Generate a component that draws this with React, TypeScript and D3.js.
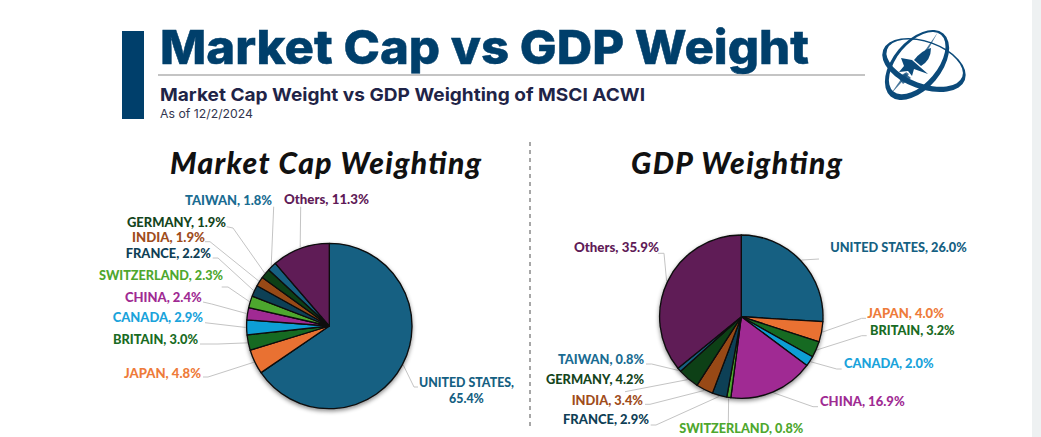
import React from "react";
import * as d3 from "d3";

const categories = ["UNITED STATES", "JAPAN", "BRITAIN", "CANADA", "CHINA", "SWITZERLAND", "FRANCE", "INDIA", "GERMANY", "TAIWAN", "Others"];
const marketCapValues = [65.4, 4.8, 3.0, 2.9, 2.4, 2.3, 2.2, 1.9, 1.9, 1.8, 11.3];
const gdpValues = [26.0, 4.0, 3.2, 2.0, 16.9, 0.8, 2.9, 3.4, 4.2, 0.8, 35.9];
const sliceColors = ["#156082", "#E97132", "#196B24", "#0F9ED5", "#A02B93", "#4EA72E", "#0D3F56", "#984A14", "#0F4018", "#156082", "#5F1B57"];
const labelColors = ["#156082", "#EE7B3A", "#196B24", "#1AA3DB", "#A02B93", "#4EA72E", "#0F3F56", "#A04D1C", "#14451C", "#1A6C92", "#5F1B57"];

type L = { x0: number; x1: number; y: number; pts: [number, number][] };
const mcLayout: L[] = [
  { x0: 419, x1: 514, y: 383, pts: [[414, 387], [418, 387]] },
  { x0: 124, x1: 201, y: 373.7, pts: [[208, 377], [203, 377]] },
  { x0: 113, x1: 198, y: 340, pts: [[218, 344], [200, 344]] },
  { x0: 112.7, x1: 203, y: 318, pts: [[205, 322.7]] },
  { x0: 125, x1: 201.7, y: 298, pts: [[211.7, 304], [203, 302]] },
  { x0: 99, x1: 223, y: 276, pts: [[228, 287], [221.7, 287]] },
  { x0: 125.7, x1: 211, y: 253.7, pts: [[218, 258], [212.7, 258]] },
  { x0: 132, x1: 205, y: 237.7, pts: [[210, 241.7], [205, 241.7]] },
  { x0: 127, x1: 226, y: 222.7, pts: [[233, 228], [226.7, 226.7]] },
  { x0: 185, x1: 272, y: 200.7, pts: [[273.7, 206.7]] },
  { x0: 284, x1: 369, y: 200, pts: [[300.7, 206.7]] },
];
const gdpLayout: L[] = [
  { x0: 830.3, x1: 966.7, y: 247.7, pts: [[819, 259]] },
  { x0: 867.3, x1: 944, y: 314, pts: [[861.7, 318.3], [866, 318.3]] },
  { x0: 870, x1: 954.7, y: 331, pts: [[861.7, 335.7], [866.7, 335.7]] },
  { x0: 844, x1: 933.7, y: 364, pts: [[836.7, 369], [841.7, 369]] },
  { x0: 820, x1: 904.7, y: 402, pts: [[813, 406.7], [818, 406.7]] },
  { x0: 679.3, x1: 803.3, y: 429.3, pts: [[728.3, 425]] },
  { x0: 563, x1: 649, y: 420, pts: [[656, 425], [650.7, 425]] },
  { x0: 571.7, x1: 643, y: 400.7, pts: [[650, 404.3], [645, 404.3]] },
  { x0: 546, x1: 644, y: 380, pts: [[625, 391.7]] },
  { x0: 558, x1: 644, y: 360, pts: [[651.7, 364], [646, 364]] },
  { x0: 574, x1: 659, y: 248, pts: [[664, 253.3], [658, 253.3]] },
];

const FONT = "Lato, 'Open Sans', sans-serif";
const HEAD = "'Inter', 'Open Sans', sans-serif";

function Pie({ values, layout, cx, cy, r, wrapFirst }: { values: number[]; layout: L[]; cx: number; cy: number; r: number; wrapFirst?: boolean }) {
  const arcs = d3.pie<number>().sort(null)(values);
  const arc = d3.arc<d3.PieArcDatum<number>>().innerRadius(0).outerRadius(r);
  const edge = d3.arc<d3.PieArcDatum<number>>().innerRadius(r + 1).outerRadius(r + 1);
  const line = d3.line();
  return (
    <g>
      {arcs.map((a, i) => {
        const [ex, ey] = edge.centroid(a);
        return <path key={i} d={line([[cx + ex, cy + ey], ...layout[i].pts]) || ""} fill="none" stroke="#c4c4c4" strokeWidth={1} />;
      })}
      <g transform={`translate(${cx},${cy})`} filter="url(#pieShadow)">
        {arcs.map((a, i) => (
          <path key={i} d={arc(a) || ""} fill={sliceColors[i]} stroke="#0b0b0b" strokeWidth={1.3} strokeLinejoin="round" />
        ))}
      </g>
      {arcs.map((a, i) => {
        const l = layout[i];
        const val = `${values[i].toFixed(1)}%`;
        const common = { fill: labelColors[i], fontFamily: FONT, fontWeight: 900, fontSize: 12.4, dominantBaseline: "central" as const };
        if (wrapFirst && i === 0) {
          return (
            <g key={i}>
              <text {...common} x={l.x0} y={l.y - 0.5} textLength={l.x1 - l.x0} lengthAdjust="spacingAndGlyphs">{categories[i]},</text>
              <text {...common} x={(l.x0 + l.x1) / 2} y={l.y + 15} textAnchor="middle">{val}</text>
            </g>
          );
        }
        return (
          <text key={i} {...common} x={l.x0} y={l.y - 0.5} textLength={l.x1 - l.x0} lengthAdjust="spacingAndGlyphs">
            {categories[i]}, {val}
          </text>
        );
      })}
    </g>
  );
}

function Logo() {
  const navy = "#0B4A7A";
  const ring = (rx: number, ry: number, dx: number, dy: number, k: number) => {
    const e = (a: number, b: number, ox: number, oy: number) =>
      `M${ox - a},${oy}A${a},${b} 0 1 0 ${ox + a},${oy}A${a},${b} 0 1 0 ${ox - a},${oy}Z`;
    return e(rx, ry, 0, 0) + e(rx - k, ry - k, dx, dy);
  };
  return (
    <g>
      <path transform="translate(917,65) rotate(-50)" d={ring(41, 24, 1.5, -1, 4)} fill={navy} fillRule="evenodd" />
      <path transform="translate(924,65) rotate(20)" d={ring(43.5, 24, 0, -2, 3.5)} fill={navy} fillRule="evenodd" />
      <path d="M938,32 L917,62 L920,64 Z" fill={navy} opacity={0.75} />
      <path d="M931,48 Q922,50 914,60 L921,66 Q931,60 931,48 Z" fill={navy} />
      <path d="M890,95 L906,72 L909,74 Z" fill={navy} opacity={0.75} />
      <path d="M901,58 L912,60 L928,74 L914,69 L912,76 L908,71 L899,72 L904,66 Z" fill={navy} />
      <path d="M898,77 L905,73 L911,78 L903,84 Z" fill={navy} opacity={0.8} />
    </g>
  );
}

export default function App() {
  return (
    <svg width={1041} height={437} style={{ position: "absolute", left: 0, top: 0, background: "#fff" }}>
      <defs>
        <filter id="pieShadow" x="-20%" y="-20%" width="140%" height="140%">
          <feDropShadow dx={0} dy={2} stdDeviation={2} floodColor="#000" floodOpacity={0.45} />
        </filter>
      </defs>
      <rect x={1032} y={0} width={9} height={437} fill="#EEF1F2" />
      <rect x={122} y={31} width={22} height={88} fill="#003F6B" />
      <text x={160} y={64} fontFamily={HEAD} fontWeight={800} fontSize={47} fill="#003F6B" stroke="#003F6B" strokeWidth={0.5} textLength={649} lengthAdjust="spacingAndGlyphs">Market Cap vs GDP Weight</text>
      <line x1={158} x2={865} y1={75} y2={75} stroke="#8a8a8a" strokeWidth={1.2} />
      <text x={160} y={101} fontFamily={HEAD} fontWeight={700} fontSize={18} fill="#1F2447" textLength={485} lengthAdjust="spacingAndGlyphs">Market Cap Weight vs GDP Weighting of MSCI ACWI</text>
      <text x={160} y={118} fontFamily={HEAD} fontWeight={400} fontSize={12} fill="#33364f" textLength={93} lengthAdjust="spacingAndGlyphs">As of 12/2/2024</text>
      <Logo />
      <text x={170} y={174} fontFamily={FONT} fontStyle="italic" fontWeight={900} fontSize={30} fill="#111" textLength={311} lengthAdjust="spacing">Market Cap Weighting</text>
      <text x={631} y={174} fontFamily={FONT} fontStyle="italic" fontWeight={900} fontSize={30} fill="#111" textLength={211} lengthAdjust="spacing">GDP Weighting</text>
      <line x1={530} x2={530} y1={142} y2={430} stroke="#8a8a8a" strokeWidth={1.5} strokeDasharray="4 4" />
      <Pie values={marketCapValues} layout={mcLayout} cx={329.3} cy={326} r={82.7} wrapFirst />
      <Pie values={gdpValues} layout={gdpLayout} cx={741.3} cy={316.7} r={81.7} />
    </svg>
  );
}
